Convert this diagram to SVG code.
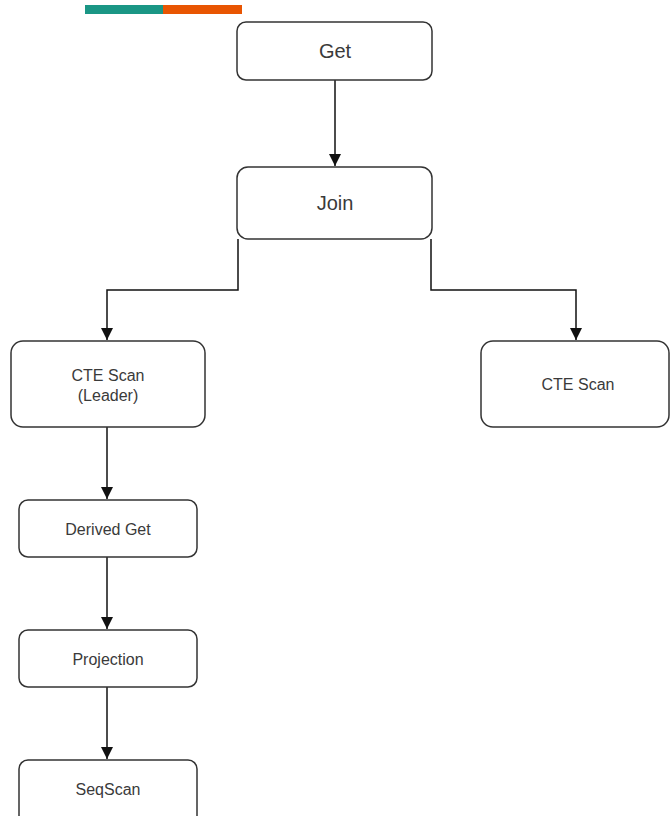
<svg xmlns="http://www.w3.org/2000/svg" width="670" height="816" viewBox="0 0 670 816">
  <style>
    .node rect { fill: #ffffff; stroke: #333333; stroke-width: 1.5; }
    .node text { font-family: "Liberation Sans", Arial, sans-serif; fill: #3a3a3a; text-anchor: middle; dominant-baseline: central; }
    .big { font-size: 20px; }
    .small { font-size: 16px; }
    .edge { fill: none; stroke: #111111; stroke-width: 1.5; }
  </style>
  <defs>
    <marker id="arrow" viewBox="0 0 10 10" refX="10" refY="5" markerWidth="12" markerHeight="12" markerUnits="userSpaceOnUse" orient="auto">
      <path d="M0,0 L10,5 L0,10 Z" fill="#111111"/>
    </marker>
  </defs>
  <rect width="670" height="816" fill="#ffffff"/>

  <!-- header accent bar -->
  <rect x="85" y="5" width="78" height="9" fill="#1a9685"/>
  <rect x="163" y="5" width="79" height="9" fill="#e85502"/>

  <g id="connectors">
    <path class="edge" d="M335,80 L335,166" marker-end="url(#arrow)"/>
    <path class="edge" d="M238,239 L238,290 L107,290 L107,340" marker-end="url(#arrow)"/>
    <path class="edge" d="M431,239 L431,290 L576,290 L576,340" marker-end="url(#arrow)"/>
    <path class="edge" d="M107,427 L107,499" marker-end="url(#arrow)"/>
    <path class="edge" d="M107,557 L107,629" marker-end="url(#arrow)"/>
    <path class="edge" d="M107,687 L107,759" marker-end="url(#arrow)"/>
  </g>

  <g id="get" class="node">
    <rect x="237" y="22" width="195" height="58" rx="9"/>
    <text class="big" x="335" y="51">Get</text>
  </g>
  <g id="join" class="node">
    <rect x="237" y="167" width="195" height="72" rx="11"/>
    <text class="big" x="335" y="203">Join</text>
  </g>
  <g id="cte-scan-leader" class="node">
    <rect x="11" y="341" width="194" height="86" rx="12"/>
    <text class="small" x="108" y="375">CTE Scan</text>
    <text class="small" x="108" y="395">(Leader)</text>
  </g>
  <g id="cte-scan" class="node">
    <rect x="481" y="341" width="188" height="86" rx="12"/>
    <text class="small" x="578" y="384">CTE Scan</text>
  </g>
  <g id="derived-get" class="node">
    <rect x="19" y="500" width="178" height="57" rx="9"/>
    <text class="small" x="108" y="529">Derived Get</text>
  </g>
  <g id="projection" class="node">
    <rect x="19" y="630" width="178" height="57" rx="9"/>
    <text class="small" x="108" y="659">Projection</text>
  </g>
  <g id="seqscan" class="node">
    <rect x="19" y="760" width="178" height="66" rx="9"/>
    <text class="small" x="108" y="789">SeqScan</text>
  </g>
</svg>
